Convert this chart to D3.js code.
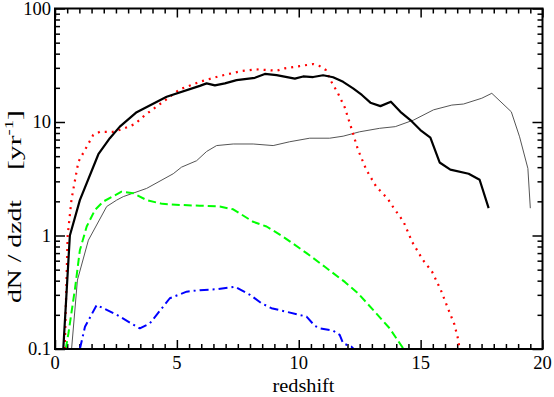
<!DOCTYPE html>
<html>
<head>
<meta charset="utf-8">
<script src="https://cdn.jsdelivr.net/npm/d3@7"></script>
<style>
  body { margin: 0; background: #fff; }
</style>
</head>
<body>
<script>
// dN/dzdt against redshift, five curves

// thick black solid
var blackX = [0.34, 0.61, 1.02, 1.78, 2.25, 2.66, 3.35, 4.58, 5.94, 6.22, 6.56, 6.97, 7.45, 8.20, 8.61, 9.09, 9.84, 10.18, 10.59, 11.0, 11.41, 11.82, 12.23, 12.59, 12.94, 13.35, 13.78, 14.17, 14.58, 14.99, 15.40, 15.78, 16.22, 16.97, 17.42, 17.79];
var blackY = [0.1, 1.0, 2.05, 5.2, 7.2, 9.1, 12.2, 16.7, 20.8, 21.9, 21.0, 21.9, 23.4, 24.5, 26.5, 25.9, 24.1, 25.2, 24.9, 25.8, 24.8, 22.6, 19.8, 17.3, 14.8, 13.8, 15.1, 12.3, 10.4, 8.5, 7.3, 4.4, 3.8, 3.5, 3.1, 1.74];

// red dotted
var redX = [0.40, 0.52, 0.68, 0.96, 1.30, 1.57, 1.84, 2.39, 2.73, 3.28, 3.69, 4.44, 5.12, 5.94, 6.76, 7.65, 8.27, 9.09, 9.43, 10.04, 10.59, 10.86, 11.11, 11.34, 11.61, 11.89, 12.16, 12.43, 12.77, 13.18, 13.66, 13.78, 14.30, 14.65, 15.09, 15.47, 15.83, 16.15, 16.38, 16.53, 16.60];
var redY = [0.1, 1.0, 2.1, 4.47, 6.05, 7.7, 8.2, 8.2, 8.6, 9.6, 11.5, 15.1, 19.4, 22.6, 25.4, 28.1, 29.1, 28.3, 29.7, 31.1, 32.4, 31.1, 28.7, 22.6, 17.9, 13.4, 8.8, 5.7, 3.8, 2.69, 2.1, 1.9, 1.32, 0.88, 0.61, 0.48, 0.33, 0.22, 0.166, 0.124, 0.1];

// green dashed
var greenX = [0.44, 0.55, 0.82, 1.02, 1.30, 1.64, 1.98, 2.73, 3.21, 3.76, 4.40, 5.12, 5.94, 6.76, 7.31, 8.13, 8.68, 9.36, 10.32, 11.07, 11.89, 12.43, 13.18, 13.73, 14.30];
var greenY = [0.1, 0.137, 0.34, 0.74, 1.2, 1.68, 1.99, 2.43, 2.36, 2.05, 1.9, 1.86, 1.83, 1.8, 1.70, 1.32, 1.2, 0.975, 0.70, 0.53, 0.39, 0.31, 0.206, 0.152, 0.1];

// blue dash-dot
var blueX = [1.02, 1.23, 1.71, 2.53, 3.48, 3.89, 4.71, 5.40, 5.94, 6.63, 7.38, 8.0, 8.47, 8.88, 9.49, 10.32, 10.66, 10.86, 11.41, 11.68, 11.82, 12.16, 12.25];
var blueY = [0.1, 0.157, 0.244, 0.20, 0.152, 0.168, 0.28, 0.32, 0.33, 0.336, 0.354, 0.30, 0.253, 0.229, 0.213, 0.193, 0.16, 0.152, 0.145, 0.133, 0.112, 0.105, 0.1];

// thin grey solid
var greyX = [0.68, 0.92, 1.37, 2.12, 2.53, 2.80, 3.76, 4.85, 5.19, 5.81, 6.22, 6.63, 7.31, 8.13, 8.95, 9.63, 10.45, 11.27, 11.82, 12.5, 13.32, 13.96, 14.71, 15.53, 16.28, 16.76, 17.51, 17.92, 18.72, 19.06, 19.40, 19.50];
var greyY = [0.1, 0.405, 0.91, 1.8, 2.05, 2.2, 2.6, 3.5, 4.0, 4.56, 5.5, 6.2, 6.4, 6.4, 6.2, 6.7, 7.2, 7.2, 7.5, 8.2, 8.8, 9.1, 10.4, 12.8, 14.1, 14.4, 16.2, 17.9, 12.3, 7.4, 3.9, 1.74];

// ticks
var xTickValues = [0, 5, 10, 15, 20];
var xTickLabels = ["0", "5", "10", "15", "20"];
var xMinorStep = 0.5;
var yTickValues = [0.1, 1, 10, 100];
var yTickLabels = ["0.1", "1", "10", "100"];

var serif = "'Liberation Serif', 'Times New Roman', Times, serif";

var margin = {top: 8.5, right: 11.5, bottom: 48, left: 55},
    width = 554 - margin.left - margin.right,
    height = 397 - margin.top - margin.bottom;

var svg = d3.select("body")
    .append("svg")
    .attr("width", 554)
    .attr("height", 397);

var g = svg.append("g")
    .attr("transform", "translate(" + margin.left + "," + margin.top + ")");

var x = d3.scaleLinear().domain([0, 20]).range([0, width]);
var y = d3.scaleLog().domain([0.1, 100]).range([height, 0]);

// minor tick positions
var xMinor = d3.range(0, 20 + 1e-9, xMinorStep).filter(function(v) {
  return xTickValues.indexOf(v) < 0;
});
var yMinor = [];
yTickValues.slice(0, -1).forEach(function(d) {
  for (var k = 2; k <= 9; k++) yMinor.push(d * k);
});

function styleAxis(sel) {
  sel.select(".domain").remove();
  sel.selectAll("line").attr("stroke", "#000").attr("stroke-width", 1.5);
  sel.selectAll("text").remove();
}

// ticks point inside on all four sides
g.append("g").attr("transform", "translate(0," + height + ")")
  .call(d3.axisBottom(x).tickValues(xTickValues).tickSize(-9)).call(styleAxis);
g.append("g").attr("transform", "translate(0," + height + ")")
  .call(d3.axisBottom(x).tickValues(xMinor).tickSize(-5)).call(styleAxis);
g.append("g")
  .call(d3.axisTop(x).tickValues(xTickValues).tickSize(-9)).call(styleAxis);
g.append("g")
  .call(d3.axisTop(x).tickValues(xMinor).tickSize(-5)).call(styleAxis);
g.append("g")
  .call(d3.axisLeft(y).tickValues(yTickValues).tickSize(-10)).call(styleAxis);
g.append("g")
  .call(d3.axisLeft(y).tickValues(yMinor).tickSize(-5)).call(styleAxis);
g.append("g").attr("transform", "translate(" + width + ",0)")
  .call(d3.axisRight(y).tickValues(yTickValues).tickSize(-10)).call(styleAxis);
g.append("g").attr("transform", "translate(" + width + ",0)")
  .call(d3.axisRight(y).tickValues(yMinor).tickSize(-5)).call(styleAxis);

// tick labels
g.selectAll(".xlab")
  .data(xTickValues)
  .enter()
  .append("text")
  .attr("x", function(d) { return x(d); })
  .attr("y", height + 19.5)
  .attr("font-family", serif)
  .attr("font-size", 18.5)
  .attr("text-anchor", "middle")
  .text(function(d, i) { return xTickLabels[i]; });

g.selectAll(".ylab")
  .data(yTickValues)
  .enter()
  .append("text")
  .attr("x", -4)
  .attr("y", function(d) { return y(d); })
  .attr("dy", "0.33em")
  .attr("font-family", serif)
  .attr("font-size", 18.5)
  .attr("text-anchor", "end")
  .text(function(d, i) { return yTickLabels[i]; });

// curves
var line = d3.line()
  .x(function(d) { return x(d[0]); })
  .y(function(d) { return y(d[1]); });

var plot = g.append("g");

function addCurve(xs, ys, color, w, dash) {
  var pts = xs.map(function(v, i) { return [v, ys[i]]; });
  plot.append("path")
    .datum(pts)
    .attr("d", line)
    .attr("fill", "none")
    .attr("stroke", color)
    .attr("stroke-width", w)
    .attr("stroke-linejoin", "round")
    .attr("stroke-dasharray", dash);
}

addCurve(greyX, greyY, "#555", 1, null);
addCurve(blueX, blueY, "#0000ff", 2, "9 4 2 4");
addCurve(greenX, greenY, "#00ff00", 2, "8 4");
addCurve(redX, redY, "#ff0000", 2.2, "2 5");
addCurve(blackX, blackY, "#000", 2.2, null);

// frame
g.append("rect")
  .attr("width", width)
  .attr("height", height)
  .attr("fill", "none")
  .attr("stroke", "#000")
  .attr("stroke-width", 2);

// axis titles
svg.append("text")
  .attr("x", 303.5)
  .attr("y", 392)
  .attr("textLength", 62)
  .attr("lengthAdjust", "spacingAndGlyphs")
  .attr("font-family", serif)
  .attr("font-size", 19)
  .attr("text-anchor", "middle")
  .text("redshift");

// y title in two pieces, wide gap between them as in the original
svg.append("text")
  .attr("transform", "translate(20.5,251.5) rotate(-90)")
  .attr("textLength", 103)
  .attr("lengthAdjust", "spacingAndGlyphs")
  .attr("font-family", serif)
  .attr("font-size", 19)
  .attr("text-anchor", "middle")
  .text("dN / dzdt");

var yUnit = svg.append("text")
  .attr("transform", "translate(20.5,140) rotate(-90)")
  .attr("textLength", 60)
  .attr("lengthAdjust", "spacingAndGlyphs")
  .attr("font-family", serif)
  .attr("font-size", 19)
  .attr("text-anchor", "middle");
yUnit.append("tspan").text("[yr");
yUnit.append("tspan").attr("dy", -8).attr("font-size", 12).text("-1");
yUnit.append("tspan").attr("dy", 8).text("]");
</script>
</body>
</html>
